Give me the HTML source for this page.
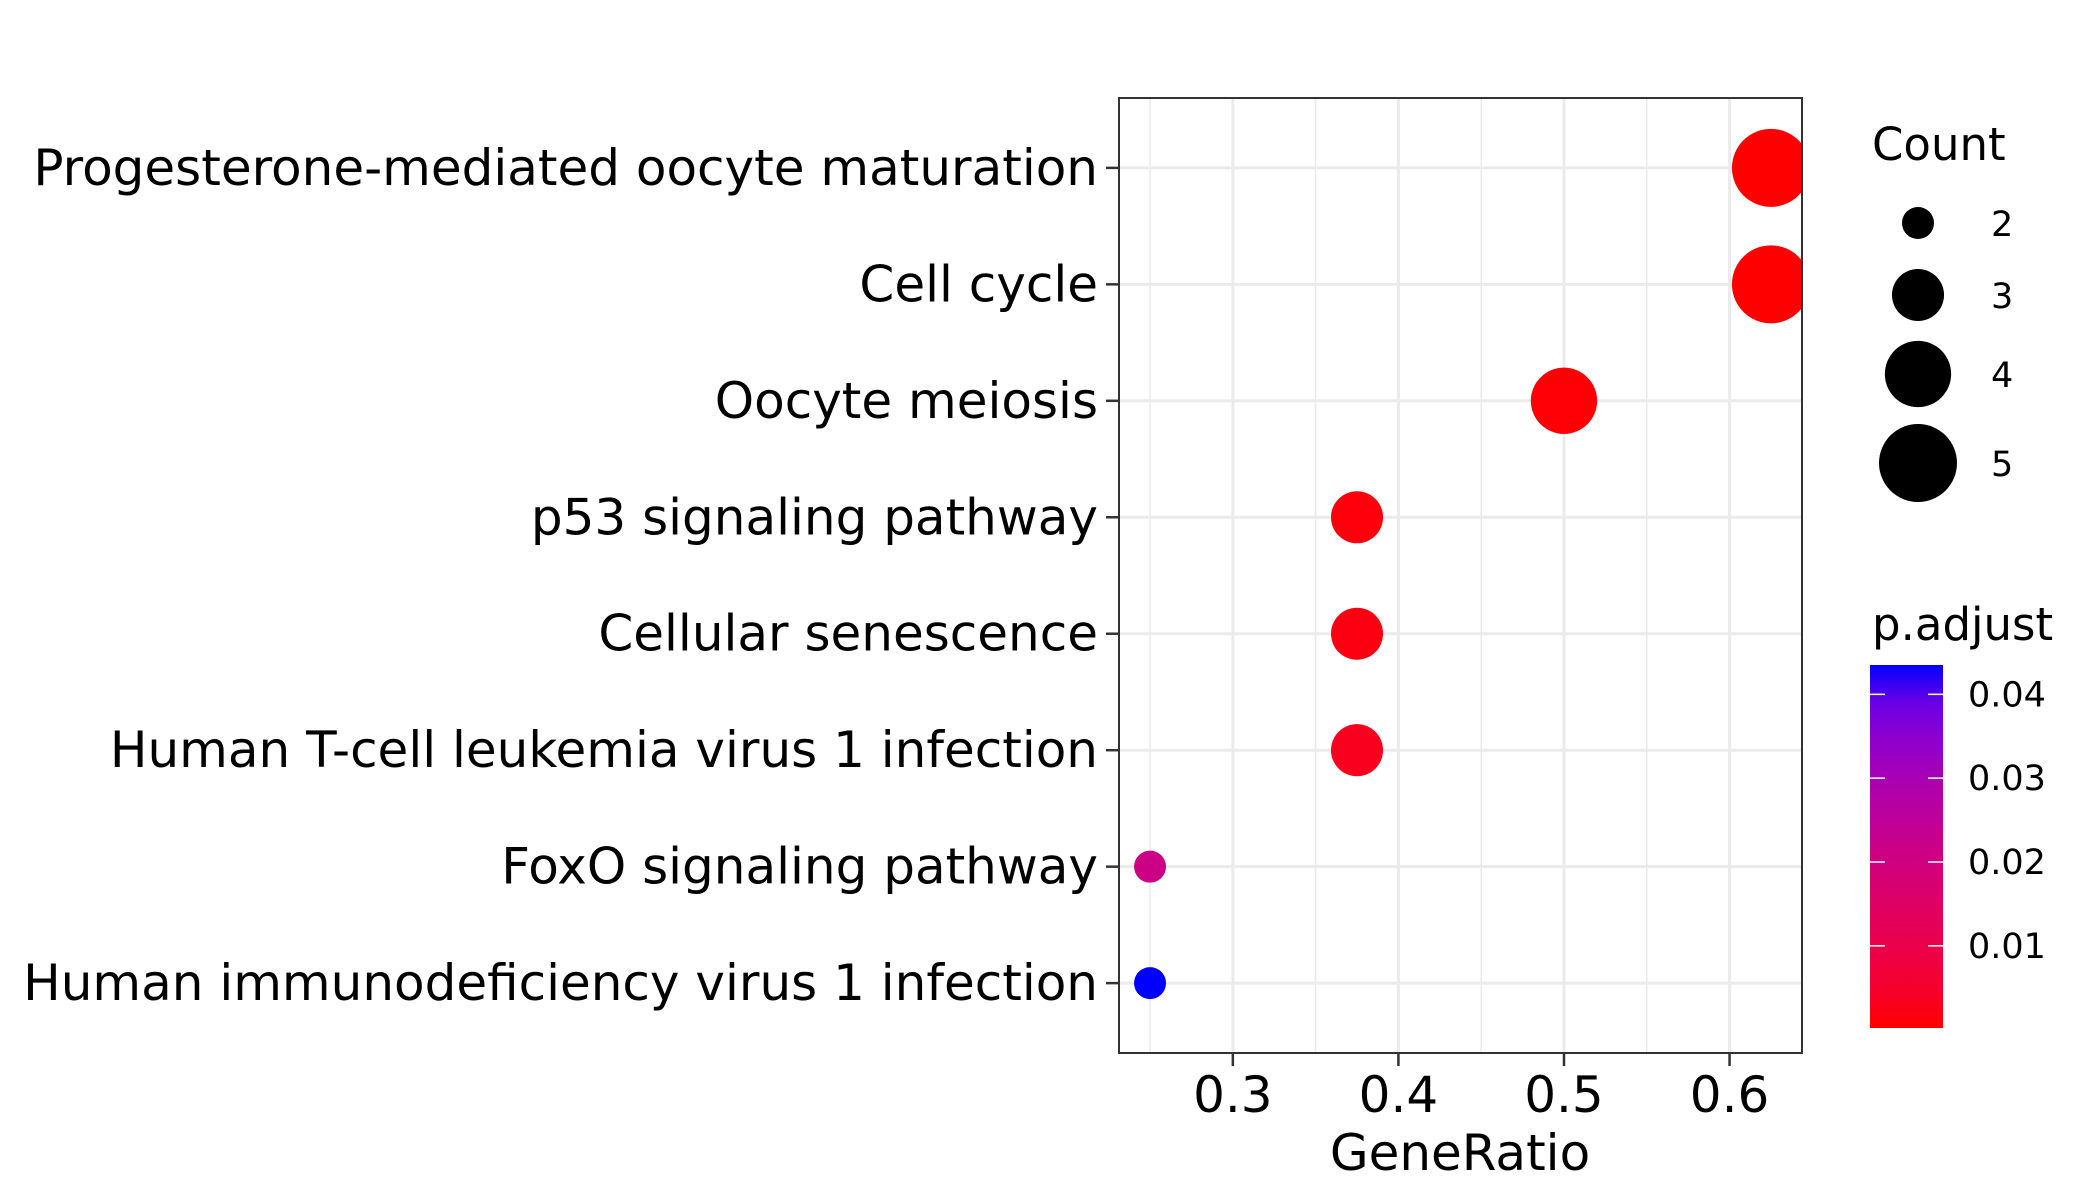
<!DOCTYPE html>
<html><head><meta charset="utf-8"><style>
html,body{margin:0;padding:0;background:#fff}
svg{display:block;font-family:"DejaVu Sans","Liberation Sans",sans-serif}
</style></head><body>
<svg id="chart" width="2100" height="1200" viewBox="0 0 2100 1200" xmlns="http://www.w3.org/2000/svg">
<defs><linearGradient id="cbar" x1="0" y1="1" x2="0" y2="0"></linearGradient></defs>
<rect width="2100" height="1200" fill="#fff"/>
<g id="grid"></g>
<g id="points"></g>
<rect x="1119" y="98" width="683" height="955" fill="none" stroke="#333" stroke-width="2"/>
<g id="yaxis"></g>
<g id="xaxis"></g>
<text x="1460" y="1170" font-size="50" text-anchor="middle" fill="#000">GeneRatio</text>
<g id="legend-size">
<text x="1872" y="160" font-size="45" fill="#000">Count</text>
</g>
<g id="legend-color">
<text x="1872" y="640" font-size="45" fill="#000">p.adjust</text>
</g>
</svg>
<script>
const categories = ["Progesterone-mediated oocyte maturation","Cell cycle","Oocyte meiosis","p53 signaling pathway","Cellular senescence","Human T-cell leukemia virus 1 infection","FoxO signaling pathway","Human immunodeficiency virus 1 infection"];
const geneRatio = [0.625,0.625,0.5,0.375,0.375,0.375,0.25,0.25];
const counts = [5,5,4,3,3,3,2,2];
const pAdjust = [0.0002,0.0003,0.0005,0.001,0.0015,0.003,0.021,0.0435];
const xTicks = [0.3,0.4,0.5,0.6];
const xTickLabels = ["0.3","0.4","0.5","0.6"];
const sizeBreaks = [2,3,4,5];
const colorBreaks = [0.01,0.02,0.03,0.04];
const colorBreakLabels = ["0.01","0.02","0.03","0.04"];

const NS="http://www.w3.org/2000/svg";
const PL=1119,PR=1802,PT=98,PB=1053;
const xmin=Math.min(...geneRatio),xmax=Math.max(...geneRatio),xpad=(xmax-xmin)*0.05;
const x=v=>PL+(v-(xmin-xpad))/((xmax+xpad)-(xmin-xpad))*(PR-PL);
const n=categories.length,step=(PB-PT)/(n-1+1.2);
const y=i=>PT+0.6*step+i*step;
const cmin=Math.min(...pAdjust),cmax=Math.max(...pAdjust);
const smin=Math.min(...counts),smax=Math.max(...counts);
const r=c=>Math.sqrt(256+(c-smin)/(smax-smin)*(1521-256));
function toLab(h){let c=[1,3,5].map(i=>parseInt(h.substr(i,2),16)/255).map(v=>v>0.04045?Math.pow((v+0.055)/1.055,2.4):v/12.92);
 let X=(c[0]*0.4124+c[1]*0.3576+c[2]*0.1805)/0.95047,Y=c[0]*0.2126+c[1]*0.7152+c[2]*0.0722,Z=(c[0]*0.0193+c[1]*0.1192+c[2]*0.9505)/1.08883;
 const f=t=>t>0.008856?Math.cbrt(t):7.787*t+16/116;return[116*f(Y)-16,500*(f(X)-f(Y)),200*(f(Y)-f(Z))];}
function fromLab(L){let fy=(L[0]+16)/116,fx=fy+L[1]/500,fz=fy-L[2]/200;const g=t=>t*t*t>0.008856?t*t*t:(t-16/116)/7.787;
 let X=g(fx)*0.95047,Y=g(fy),Z=g(fz)*1.08883;let c=[X*3.2406-Y*1.5372-Z*0.4986,-X*0.9689+Y*1.8758+Z*0.0415,X*0.0557-Y*0.2040+Z*1.0570];
 return"#"+c.map(v=>{v=v>0.0031308?1.055*Math.pow(v,1/2.4)-0.055:12.92*v;v=Math.round(Math.max(0,Math.min(1,v))*255);return v.toString(16).padStart(2,"0")}).join("");}
const LA=toLab("#ff0000"),LB=toLab("#0000ff");
const col=v=>{let t=Math.max(0,Math.min(1,(v-cmin)/(cmax-cmin)));return fromLab(LA.map((a,i)=>a+(LB[i]-a)*t));};
function mk(tag,attrs,parent,txt){const e=document.createElementNS(NS,tag);for(const k in attrs)e.setAttribute(k,attrs[k]);if(txt!==undefined)e.textContent=txt;parent.appendChild(e);return e;}
const grid=document.getElementById("grid");
for(let i=0;i<xTicks.length;i++){const v=xTicks[i];
 const mn=mk("line",{x1:x(v-0.05),x2:x(v-0.05),y1:PT,y2:PB,stroke:"#EBEBEB","stroke-width":1.5},grid);
 
 
 const g=mk("line",{x1:x(v),x2:x(v),y1:PT,y2:PB,stroke:"#EBEBEB","stroke-width":3},grid);
 
 }
{const v=xTicks[xTicks.length-1]+0.05;if(x(v)<PR){const mn=mk("line",{x1:x(v),x2:x(v),y1:PT,y2:PB,stroke:"#EBEBEB","stroke-width":1.5},grid);
 
 }}
const ya=document.getElementById("yaxis"),pts=document.getElementById("points");
categories.forEach((c,i)=>{
 const g=mk("line",{x1:PL,x2:PR,y1:y(i),y2:y(i),stroke:"#EBEBEB","stroke-width":3},grid);
 
 
 const t=mk("line",{x1:PL-13,x2:PL,y1:y(i),y2:y(i),stroke:"#333","stroke-width":2.5},ya);
 
 
 const l=mk("text",{x:PL-21,y:y(i)+17,"font-size":50,"text-anchor":"end",fill:"#000"},ya,c);
 
 
});
const clip=mk("clipPath",{id:"pclip"},document.querySelector("defs"));mk("rect",{x:PL,y:PT,width:PR-PL,height:PB-PT},clip);
pts.setAttribute("clip-path","url(#pclip)");
categories.forEach((c,i)=>{
 const p=mk("circle",{cx:x(geneRatio[i]),cy:y(i),r:r(counts[i]),fill:col(pAdjust[i])},pts);
 
 
});
const xa=document.getElementById("xaxis");
xTicks.forEach((v,i)=>{
 const t=mk("line",{x1:x(v),x2:x(v),y1:PB,y2:PB+13,stroke:"#333","stroke-width":2.5},xa);
 
 
 const l=mk("text",{x:x(v),y:1112,"font-size":50,"text-anchor":"middle",fill:"#000"},xa,xTickLabels[i]);
 
 
});
const ls=document.getElementById("legend-size");
const legY=[223,295,374,463];
sizeBreaks.forEach((s,i)=>{
 const c=mk("circle",{cx:1918,cy:legY[i],r:r(s),fill:"#000"},ls);
 
 
 const l=mk("text",{x:1991,y:legY[i]+13,"font-size":35,fill:"#000"},ls,String(s));
 
 
});
const grad=document.getElementById("cbar");
for(let k=0;k<=10;k++){mk("stop",{offset:k/10,"stop-color":col(cmin+(cmax-cmin)*k/10)},grad);}
const lc=document.getElementById("legend-color");
const CB=1028,CT=665;
const cy=v=>CB-(v-cmin)/(cmax-cmin)*(CB-CT);
const bar=mk("rect",{x:1870,y:CT,width:73,height:CB-CT,fill:"url(#cbar)"},lc);


colorBreaks.forEach((v,i)=>{
 const a=mk("line",{x1:1870,x2:1885,y1:cy(v),y2:cy(v),stroke:"#fff","stroke-width":1.5},lc);
 
 
 const b=mk("line",{x1:1928,x2:1943,y1:cy(v),y2:cy(v),stroke:"#fff","stroke-width":1.5},lc);
 
 
 const l=mk("text",{x:1968,y:cy(v)+12,"font-size":35,fill:"#000"},lc,colorBreakLabels[i]);
 
 
});
</script>
</body></html>
